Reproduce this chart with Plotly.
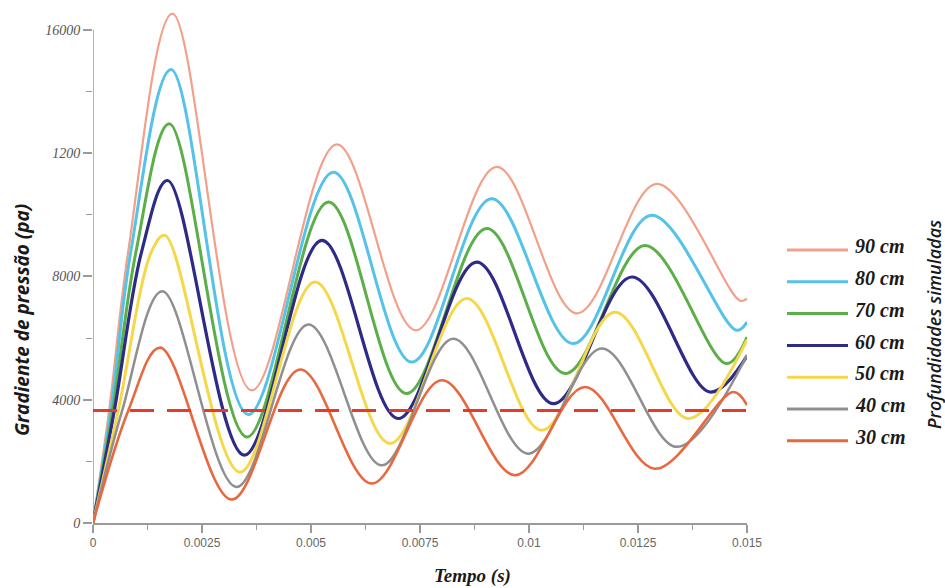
import plotly.graph_objects as go

# ---- data (time in s, pressure gradient in Pa) ----
labels = ["90 cm", "80 cm", "70 cm", "60 cm", "50 cm", "40 cm", "30 cm"]

t_90 = [0, 0.00037, 0.00081, 0.00182, 0.00364, 0.00559, 0.00740, 0.00926, 0.01110, 0.01293, 0.01484, 0.0150]
v_90 = [0, 3650, 8830, 16520, 4300, 12280, 6250, 11550, 6800, 11000, 7210, 7280]

t_80 = [0, 0.00041, 0.00087, 0.00179, 0.00356, 0.00551, 0.00731, 0.00914, 0.01101, 0.01281, 0.01476, 0.0150]
v_80 = [0, 3650, 8830, 14710, 3520, 11380, 5220, 10520, 5820, 9980, 6250, 6520]

t_70 = [0, 0.00045, 0.00099, 0.00175, 0.00353, 0.00540, 0.00719, 0.00903, 0.01083, 0.01266, 0.01453, 0.0150]
v_70 = [0, 3650, 8830, 12950, 2790, 10410, 4200, 9550, 4850, 9000, 5170, 6030]

t_60 = [0, 0.00049, 0.00112, 0.00171, 0.00347, 0.00525, 0.00700, 0.00880, 0.01056, 0.01236, 0.01415, 0.0150]
v_60 = [0, 3650, 8830, 11110, 2200, 9170, 3390, 8460, 3870, 7980, 4250, 5420]

t_50 = [0, 0.00058, 0.00135, 0.00165, 0.00337, 0.00509, 0.00681, 0.00857, 0.01029, 0.01197, 0.01365, 0.0150]
v_50 = [0, 3650, 8830, 9330, 1650, 7820, 2580, 7280, 3010, 6840, 3390, 5950]

t_40 = [0, 0.00067, 0.00159, 0.00329, 0.00494, 0.00662, 0.00826, 0.00998, 0.01167, 0.01339, 0.0150]
v_40 = [0, 3650, 7520, 1170, 6440, 1870, 5980, 2250, 5660, 2470, 5450]

t_30 = [0, 0.00081, 0.00154, 0.00318, 0.00475, 0.00639, 0.00800, 0.00968, 0.01128, 0.01289, 0.01469, 0.0150]
v_30 = [0, 3650, 5690, 760, 4980, 1280, 4630, 1550, 4410, 1760, 4250, 3820]

threshold_t = [0, 0.015]
threshold_v = 3650

y_tickvals = [0, 4000, 8000, 12000, 16000]
y_ticktext = ["0", "4000", "8000", "1200", "16000"]
x_tickvals = [0, 0.0025, 0.005, 0.0075, 0.01, 0.0125, 0.015]
x_ticktext = ["0", "0.0025", "0.005", "0.0075", "0.01", "0.0125", "0.015"]

# ---- styling ----
series = [
    (t_90, v_90, "#F2A089", 2.2),
    (t_80, v_80, "#55C2E8", 3),
    (t_70, v_70, "#5BAE48", 3),
    (t_60, v_60, "#2D2B86", 3.2),
    (t_50, v_50, "#F5D84A", 3),
    (t_40, v_40, "#8F8F8F", 2.5),
    (t_30, v_30, "#E8683F", 2.6),
]

W, H = 945, 588
L, R, T, B = 93, 198, 2, 65
PW, PH = W - L - R, H - T - B


def px_x(px):
    return (px - L) / PW


def px_y(py):
    return (H - B - py) / PH


fig = go.Figure()
for (t, v, col, w), name in zip(series, labels):
    fig.add_trace(go.Scatter(
        x=t, y=v, mode="lines", name=name, showlegend=False,
        line=dict(color=col, width=w, shape="spline", smoothing=1.0),
        hoverinfo="skip"))

fig.add_trace(go.Scatter(
    x=threshold_t, y=[threshold_v] * len(threshold_t), mode="lines",
    showlegend=False, line=dict(color="#E43B2C", width=3, dash="24px,13px"),
    hoverinfo="skip"))

axis_col = "#9A9A9A"
fig.update_xaxes(
    range=[0, 0.015], tickvals=x_tickvals, ticktext=x_ticktext,
    showgrid=False, zeroline=False, showline=True, linecolor=axis_col, linewidth=1.5,
    ticks="outside", ticklen=8, tickcolor=axis_col, tickwidth=1.5,
    minor=dict(dtick=0.00125, ticks="outside", ticklen=5, tickcolor=axis_col, tickwidth=1.2),
    tickfont=dict(family="Liberation Sans", size=12, color="#666666"),
)
fig.update_yaxes(
    range=[0, 16900], tickvals=y_tickvals, ticktext=y_ticktext,
    showgrid=False, zeroline=False, showline=False,
    ticks="outside", ticklen=9, tickcolor=axis_col, tickwidth=1.5,
    minor=dict(dtick=2000, ticks="outside", ticklen=6, tickcolor=axis_col, tickwidth=1.2),
    tickfont=dict(family="Liberation Serif", size=14, color="#555555", style="italic"),
)

shapes = [dict(type="line", xref="x", yref="y", x0=0, x1=0, y0=0, y1=max(y_tickvals),
               line=dict(color=axis_col, width=1.5), layer="below")]
annotations = []

# manual legend
leg_y = [250, 281.7, 313.5, 345.5, 377.3, 409, 440.7]
for (t, v, col, w), name, ly in zip(series, labels, leg_y):
    shapes.append(dict(type="line", xref="paper", yref="paper",
                       x0=px_x(787), x1=px_x(848), y0=px_y(ly), y1=px_y(ly),
                       line=dict(color=col, width=3)))
    annotations.append(dict(xref="paper", yref="paper", x=px_x(853), y=px_y(ly - 4),
                            text=name, showarrow=False, xanchor="left", yanchor="middle",
                            font=dict(family="Liberation Serif", size=20, color="#1a1a1a",
                                      style="italic", weight="bold")))

annotations.append(dict(xref="paper", yref="paper", x=px_x(934), y=px_y(325),
                        text="Profundidades simuladas", textangle=-90, showarrow=False,
                        xanchor="center", yanchor="middle",
                        font=dict(family="Open Sans", size=18, color="#1a1a1a", style="italic",
                                  weight=600)))
annotations.append(dict(xref="paper", yref="paper", x=px_x(22), y=px_y(320),
                        text="Gradiente de pressão (pa)", textangle=-90, showarrow=False,
                        xanchor="center", yanchor="middle",
                        font=dict(family="Open Sans", size=19, color="#1a1a1a", style="italic",
                                  weight="bold")))
annotations.append(dict(xref="paper", yref="paper", x=px_x(472), y=px_y(576),
                        text="Tempo (s)", showarrow=False,
                        xanchor="center", yanchor="middle",
                        font=dict(family="Liberation Serif", size=19, color="#1a1a1a", style="italic",
                                  weight="bold")))

fig.update_layout(
    width=W, height=H, margin=dict(l=L, r=R, t=T, b=B),
    paper_bgcolor="white", plot_bgcolor="white",
    shapes=shapes, annotations=annotations, showlegend=False,
)

fig.write_html("out.html", config={"displayModeBar": False},
               post_script="document.body.style.margin='0px';")
